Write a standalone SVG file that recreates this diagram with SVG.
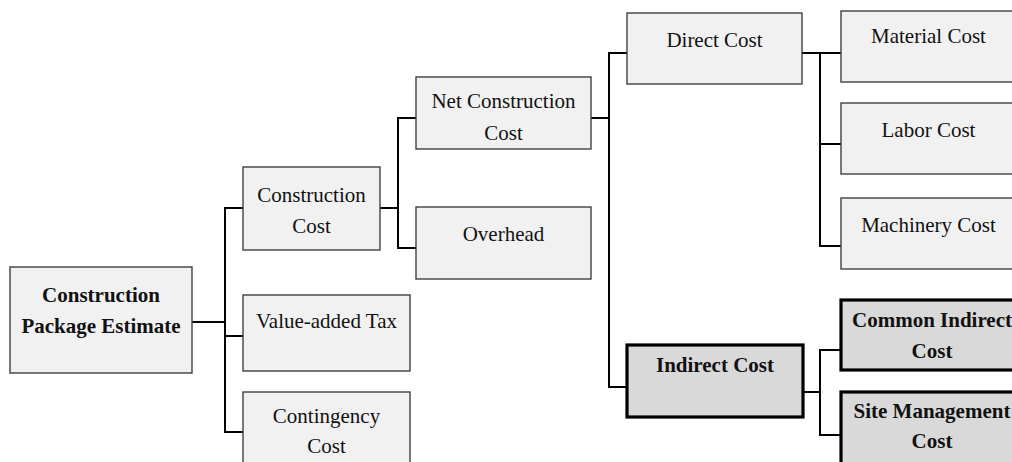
<svg xmlns="http://www.w3.org/2000/svg" width="1012" height="462" viewBox="0 0 1012 462">
  <style>
    .box { fill: #f1f1f1; stroke: #404040; stroke-width: 1.4; }
    .hbox { fill: #d9d9d9; stroke: #000; stroke-width: 3.2; }
    .lbl { font-family: "Liberation Serif", "Times New Roman", serif; font-size: 21px; fill: #111; text-anchor: middle; }
    .bold { font-weight: bold; }
    .wire { fill: none; stroke: #000; stroke-width: 2; stroke-linecap: square; }
  </style>
  <rect width="1012" height="462" fill="#fff"/>

  <!-- connectors -->
  <g id="connectors" class="wire">
    <path d="M192,322 H225 M225,208 V432 M225,208 H243 M225,336 H243 M225,432 H243"/>
    <path d="M380,208 H398 M398,118 V248 M398,118 H416 M398,248 H416"/>
    <path d="M591,118 H609 M609,53 V387 M609,53 H627 M609,387 H627"/>
    <path d="M802,53 H820 M820,53 V246 M820,53 H841 M820,144 H841 M820,246 H841"/>
    <path d="M803,392 H820 M820,350 V435 M820,350 H841 M820,435 H841"/>
  </g>

  <g id="estimate">
    <rect class="box" x="10" y="267" width="182" height="106"/>
    <text class="lbl bold" x="101" y="302">Construction</text>
    <text class="lbl bold" x="101" y="333">Package Estimate</text>
  </g>
  <g id="construction-cost">
    <rect class="box" x="243" y="167" width="137" height="83"/>
    <text class="lbl" x="311.5" y="202">Construction</text>
    <text class="lbl" x="311.5" y="233">Cost</text>
  </g>
  <g id="vat">
    <rect class="box" x="243" y="295" width="167" height="76"/>
    <text class="lbl" x="326.5" y="328">Value-added Tax</text>
  </g>
  <g id="contingency">
    <rect class="box" x="243" y="392" width="167" height="80"/>
    <text class="lbl" x="326.5" y="423">Contingency</text>
    <text class="lbl" x="326.5" y="453">Cost</text>
  </g>
  <g id="net-construction">
    <rect class="box" x="416" y="77" width="175" height="72"/>
    <text class="lbl" x="503.5" y="108">Net Construction</text>
    <text class="lbl" x="503.5" y="140">Cost</text>
  </g>
  <g id="overhead">
    <rect class="box" x="416" y="207" width="175" height="72"/>
    <text class="lbl" x="503.5" y="241">Overhead</text>
  </g>
  <g id="direct">
    <rect class="box" x="627" y="13" width="175" height="71"/>
    <text class="lbl" x="714.5" y="47">Direct Cost</text>
  </g>
  <g id="material">
    <rect class="box" x="841" y="11" width="180" height="71"/>
    <text class="lbl" x="928.5" y="43">Material Cost</text>
  </g>
  <g id="labor">
    <rect class="box" x="841" y="103" width="180" height="71"/>
    <text class="lbl" x="928.5" y="137">Labor Cost</text>
  </g>
  <g id="machinery">
    <rect class="box" x="841" y="198" width="180" height="71"/>
    <text class="lbl" x="928.5" y="232">Machinery Cost</text>
  </g>
  <g id="indirect">
    <rect class="hbox" x="627" y="345" width="176" height="72"/>
    <text class="lbl bold" x="715" y="372">Indirect Cost</text>
  </g>
  <g id="common-indirect">
    <rect class="hbox" x="841" y="300" width="190" height="70"/>
    <text class="lbl bold" x="932" y="327">Common Indirect</text>
    <text class="lbl bold" x="932" y="358">Cost</text>
  </g>
  <g id="site-management">
    <rect class="hbox" x="841" y="392" width="190" height="90"/>
    <text class="lbl bold" x="932" y="418">Site Management</text>
    <text class="lbl bold" x="932" y="448">Cost</text>
  </g>
</svg>
